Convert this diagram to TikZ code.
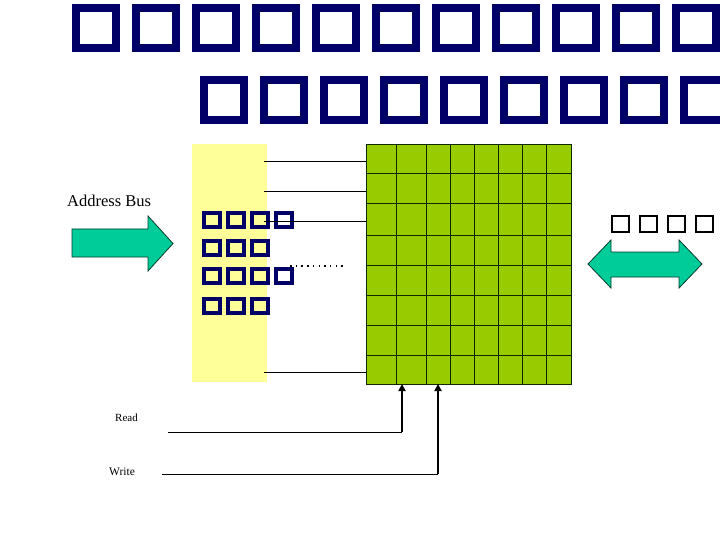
\documentclass[tikz,border=0pt]{standalone}
\usepackage{fontspec}
\setmainfont{Liberation Serif}
\usetikzlibrary{arrows.meta}
\definecolor{navy}{RGB}{0,0,102}
\definecolor{memgreen}{RGB}{153,204,0}
\definecolor{gridline}{RGB}{16,40,0}
\definecolor{lightyellow}{RGB}{255,255,153}
\definecolor{busgreen}{RGB}{0,204,153}
\definecolor{busline}{RGB}{0,60,40}
% missing-glyph box: inner width, height, stroke
\newcommand{\tofu}[3]{\hbox{\vrule width #3 height #2 depth 0pt\vbox to #2{\hrule height #3 width #1\vfill\hrule height #3 width #1}\vrule width #3 height #2 depth 0pt}}
\newcommand{\TB}{\tofu{32pt}{48pt}{8pt}\hspace{12pt}}
\newcommand{\SB}{\tofu{12pt}{18pt}{4pt}\hspace{4pt}}
\newcommand{\RB}{\tofu{15pt}{18pt}{2pt}\hspace{9pt}}
\tikzset{
  glyphs/.style={inner sep=0pt, outer sep=0pt, anchor=north west},
  wire/.style={line width=1pt, black},
  ctrl/.style={line width=2pt, black, -{Triangle[length=7pt,width=7pt]}},
  bus/.style={fill=busgreen, draw=busline, line width=0.8pt, line join=miter},
  lbl/.style={inner sep=0pt, anchor=base west, font=#1},
}
\begin{document}
\begin{tikzpicture}[x=1pt,y=-1pt]
\useasboundingbox (0,0) rectangle (720,540);

% title (missing glyphs)
\node[glyphs, text=navy] (title1) at (72,4) {\TB\TB\TB\TB\TB\TB\TB\TB\TB\TB\TB};
\node[glyphs, text=navy] (title2) at (200,76) {\TB\TB\TB\TB\TB\TB\TB\TB\TB};

% decoder (yellow)
\node[fill=lightyellow, draw=none, inner sep=0pt, minimum width=75pt, minimum height=238pt, anchor=north west] (dec) at (192,144) {};
\node[glyphs, text=navy] (dl1) at (202,211) {\SB\SB\SB\SB};
\node[glyphs, text=navy] (dl2) at (202,239) {\SB\SB\SB};
\node[glyphs, text=navy] (dl3) at (202,267) {\SB\SB\SB\SB};
\node[glyphs, text=navy] (dl4) at (202,297) {\SB\SB\SB};

% memory array
\node[fill=memgreen, draw=gridline, line width=1pt, inner sep=0pt, minimum width=205pt, minimum height=240pt, anchor=north west] (mem) at (366,144) {};
\foreach \x in {396,426,450,474,498,522,546}
  \draw[gridline, line width=1pt] (\x,144) -- (\x,384);
\foreach \y in {174,204,235,265,295,325,355}
  \draw[gridline, line width=1pt] (366,\y) -- (571,\y);

% word lines
\foreach \y [count=\i] in {162,192,222,372} {
  \coordinate (w\i) at (264,\y);
  \draw[wire] (w\i) -- (w\i -| mem.west);
}
\coordinate (dotA) at (290,266);
\coordinate (dotB) at (347,266);
\draw[line width=1.5pt, dash pattern=on 1.5pt off 4.2pt] (dotA) -- (dotB);

% address bus
\node[lbl=\fontsize{16.5pt}{18pt}\selectfont] (addr) at (67,207) {Address Bus};
\draw[bus] (72,229) -- (148,229) -- (148,216) -- (173,243.5) -- (148,271) -- (148,257) -- (72,257) -- cycle;

% data bus
\node[glyphs, text=black] (dlab) at (611,215) {\RB\RB\RB\RB};
\draw[bus] (588,264) -- (611,240) -- (611,252) -- (679,252) -- (679,240) -- (702,264) -- (679,288) -- (679,277) -- (611,277) -- (611,288) -- cycle;

% read / write
\node[lbl=\fontsize{11pt}{12pt}\selectfont] (read) at (115,421) {Read};
\node[lbl=\fontsize{11.5pt}{12pt}\selectfont] (write) at (109,475) {Write};
\coordinate (rs) at (168,432);
\coordinate (rc) at (402,432);
\coordinate (rt) at (402,384);
\coordinate (ws) at (162,474);
\coordinate (wc) at (438,474);
\coordinate (wt) at (438,384);
\draw[wire] (rs) -- (rc);
\draw[ctrl] (rc) -- (rt);
\draw[wire] (ws) -- (wc);
\draw[ctrl] (wc) -- (wt);
\end{tikzpicture}
\end{document}
